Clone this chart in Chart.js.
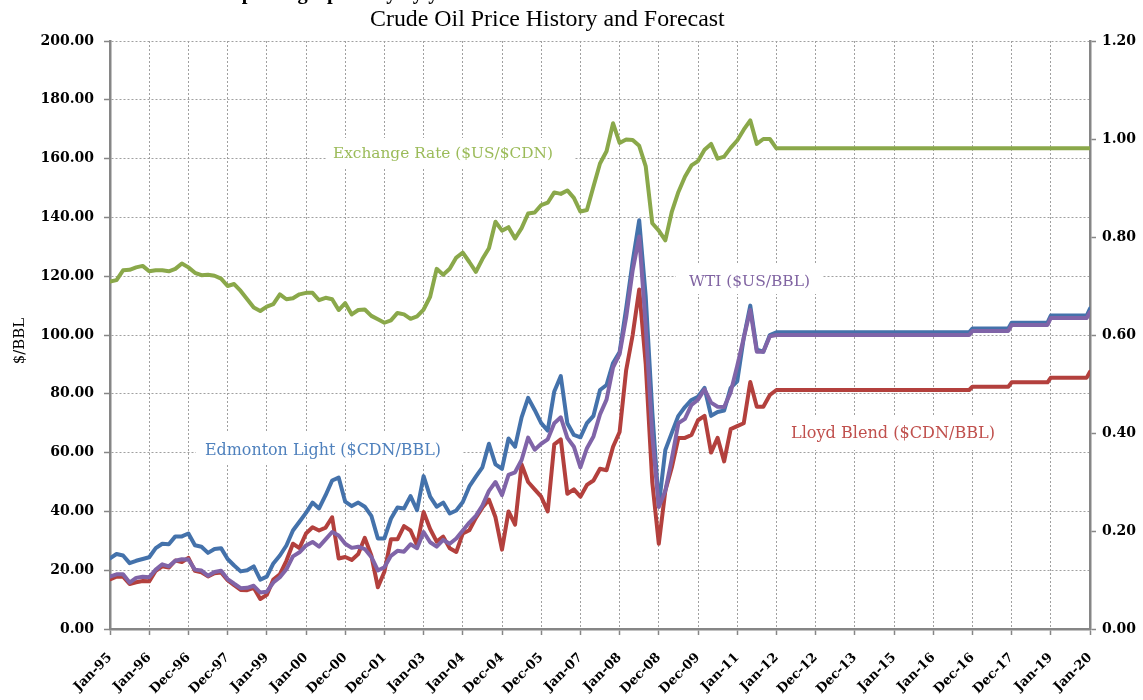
<!DOCTYPE html>
<html>
<head>
<meta charset="utf-8">
<title>Crude Oil Price History and Forecast</title>
<script src="https://cdn.jsdelivr.net/npm/chart.js@4.4.1/dist/chart.umd.min.js"></script>
<style>
  html, body { margin: 0; padding: 0; background: #fff; }
  canvas { display: block; }
</style>
</head>
<body>
<canvas id="oilChart" width="1143" height="700"></canvas>
<script>
// months since Jan-95 (history every 2 months, then forecast step points)
const monthIndex = [
  0, 2, 4, 6, 8, 10, 12, 14, 16, 18,
  20, 22, 24, 26, 28, 30, 32, 34, 36, 38,
  40, 42, 44, 46, 48, 50, 52, 54, 56, 58,
  60, 62, 64, 66, 68, 70, 72, 74, 76, 78,
  80, 82, 84, 86, 88, 90, 92, 94, 96, 98,
  100, 102, 104, 106, 108, 110, 112, 114, 116, 118,
  120, 122, 124, 126, 128, 130, 132, 134, 136, 138,
  140, 142, 144, 146, 148, 150, 152, 154, 156, 158,
  160, 162, 164, 166, 168, 170, 172, 174, 176, 178,
  180, 182, 184, 186, 188, 190, 192, 194, 196, 198,
  200, 202, 204,
  263, 264, 275, 276, 287, 288, 299, 300
];

const tickMonths = [0, 12, 24, 36, 48, 60, 72, 84, 96, 108, 120, 132, 144,
  156, 168, 180, 192, 204, 216, 228, 240, 252, 264, 276, 288, 300];
const tickLabels = ['Jan-95', 'Jan-96', 'Dec-96', 'Dec-97', 'Jan-99', 'Jan-00', 'Dec-00',
  'Dec-01', 'Jan-03', 'Jan-04', 'Dec-04', 'Dec-05', 'Jan-07', 'Jan-08', 'Dec-08',
  'Dec-09', 'Jan-11', 'Jan-12', 'Dec-12', 'Dec-13', 'Jan-15', 'Jan-16', 'Dec-16',
  'Dec-17', 'Jan-19', 'Jan-20'];

// Edmonton Light ($CDN/BBL)
const edmontonLight = [
  24.0, 25.5, 25.0, 22.4, 23.2, 23.8, 24.4, 27.5, 29.0, 28.8,
  31.5, 31.5, 32.5, 28.5, 28.0, 25.9, 27.2, 27.5, 23.8, 21.6,
  19.6, 20.0, 21.3, 16.8, 17.8, 22.3, 25.0, 28.4, 33.5, 36.5,
  39.5, 43.0, 41.0, 45.5, 50.5, 51.5, 43.3, 41.8, 43.0, 41.6,
  38.5, 30.8, 30.8, 37.5, 41.3, 41.0, 45.2, 40.4, 52.0, 45.0,
  41.6, 43.0, 39.3, 40.3, 43.2, 48.5, 51.8, 55.0, 63.0, 56.0,
  54.5, 64.8, 62.0, 72.0, 78.6, 74.5, 70.0, 67.5, 80.8, 86.0,
  70.0, 66.0, 65.2, 70.0, 72.5, 81.3, 83.0, 90.5, 94.2, 109.0,
  125.0, 139.0, 113.0, 74.0, 42.0, 60.9, 66.8, 72.5, 75.5, 77.9,
  79.0, 82.0, 72.5, 73.8, 74.3, 82.0, 84.2, 99.0, 110.0, 95.0,
  94.3, 100.0, 100.9,
  100.9, 102.2, 102.2, 104.2, 104.2, 106.6, 106.6, 109.0
];

// WTI ($US/BBL)
const wti = [
  17.8, 18.6, 18.6, 15.8, 17.4, 17.8, 17.6, 20.2, 22.0, 21.3,
  23.2, 23.7, 23.6, 20.2, 19.9, 18.1, 19.4, 19.8, 17.0, 15.4,
  13.9, 14.0, 14.7, 12.4, 12.7, 15.8, 17.6, 20.3, 24.7, 26.1,
  28.4, 29.6, 28.0, 30.5, 33.0, 31.8, 29.0, 27.6, 28.0, 27.2,
  24.5, 19.9, 21.0, 24.9, 26.6, 26.3, 28.8, 27.5, 33.0, 29.5,
  28.0, 30.3, 29.0, 30.8, 33.5, 36.2, 38.5, 42.0, 47.0, 50.0,
  45.5, 52.4, 53.3, 57.5, 65.1, 61.0, 63.0, 64.5, 70.0, 72.0,
  65.0, 62.0, 55.0, 61.5, 65.5, 73.0, 78.0, 89.0, 93.5, 106.0,
  122.0, 133.5, 103.0, 66.0, 41.5, 47.0, 58.0, 70.0, 71.5, 76.2,
  78.0, 81.5, 77.0, 75.6, 75.5, 80.5, 89.5, 99.0, 108.5, 94.3,
  94.3, 99.6, 100.0,
  100.0, 101.4, 101.4, 103.4, 103.4, 105.8, 105.8, 107.8
];

// Lloyd Blend ($CDN/BBL)
const lloydBlend = [
  16.9, 17.8, 17.8, 15.3, 15.9, 16.3, 16.2, 19.8, 21.3, 20.9,
  23.3, 22.8, 24.2, 19.8, 19.3, 17.9, 19.0, 19.2, 16.6, 14.9,
  13.3, 13.2, 14.0, 10.2, 11.6, 16.8, 18.6, 23.2, 29.0, 27.5,
  32.5, 34.6, 33.5, 34.5, 38.0, 24.0, 24.5, 23.5, 25.5, 31.0,
  25.0, 14.2, 19.5, 30.5, 30.5, 35.0, 33.5, 28.5, 39.8, 34.0,
  29.7, 31.4, 27.5, 26.2, 32.5, 33.6, 37.8, 41.3, 44.0, 38.0,
  27.0, 40.0, 35.5, 56.0, 50.0, 47.5, 45.0, 40.0, 62.8, 64.5,
  46.0, 47.5, 45.0, 49.0, 50.5, 54.5, 54.0, 62.0, 67.0, 88.0,
  100.0, 115.5, 90.0, 50.0, 29.0, 47.0, 55.0, 65.0, 65.0, 66.0,
  71.0, 72.5, 60.0, 65.0, 57.0, 68.0, 69.0, 70.0, 84.0, 75.6,
  75.6, 79.6, 81.3,
  81.3, 82.4, 82.4, 83.9, 83.9, 85.5, 85.5, 87.5
];

// Exchange Rate ($US/$CDN), right axis
const exchangeRate = [
  0.709, 0.712, 0.732, 0.733, 0.738, 0.741, 0.730, 0.732, 0.732, 0.730,
  0.735, 0.746, 0.738, 0.727, 0.722, 0.723, 0.721, 0.715, 0.700, 0.704,
  0.690, 0.673, 0.656, 0.649, 0.658, 0.663, 0.683, 0.673, 0.675, 0.683,
  0.686, 0.686, 0.671, 0.676, 0.673, 0.651, 0.665, 0.642, 0.651, 0.652,
  0.639, 0.632, 0.625, 0.630, 0.645, 0.642, 0.633, 0.638, 0.652, 0.678,
  0.735, 0.723, 0.735, 0.758, 0.768, 0.749, 0.729, 0.755, 0.777, 0.831,
  0.813, 0.820, 0.797, 0.818, 0.848, 0.850, 0.865, 0.870, 0.891, 0.888,
  0.895, 0.880, 0.852, 0.855, 0.903, 0.950, 0.975, 1.032, 0.992, 0.999,
  0.998, 0.986, 0.944, 0.828, 0.813, 0.793, 0.852, 0.892, 0.923, 0.946,
  0.955, 0.978, 0.990, 0.960, 0.964, 0.982, 0.997, 1.019, 1.038, 0.990,
  1.000, 1.000, 0.981,
  0.981, 0.981, 0.981, 0.981, 0.981, 0.981, 0.981, 0.981
];

const SERIF = '"DejaVu Serif", "Liberation Serif", serif';
const TITLE_SERIF = '"Liberation Serif", "DejaVu Serif", serif';

function toPoints(values) {
  return monthIndex.map((m, i) => ({ x: m, y: values[i] }));
}

// size a font so the text spans the given width
function fitFont(ctx, text, width, weight, family) {
  family = family || SERIF;
  ctx.font = weight + ' 100px ' + family;
  const size = 100 * width / ctx.measureText(text).width;
  return weight + ' ' + size.toFixed(2) + 'px ' + family;
}

// in-plot series labels, on white boxes that hide the grid
const seriesLabels = [
  { text: 'Exchange Rate ($US/$CDN)', color: '#9BBB59', x: 333, w: 220, base: 158, box: [327, 138, 574, 168] },
  { text: 'Edmonton Light ($CDN/BBL)', color: '#4F81BD', x: 205, w: 236, base: 455, box: [196, 431, 463, 463] },
  { text: 'WTI ($US/BBL)', color: '#8064A2', x: 689, w: 121, base: 286, box: [676, 265, 822, 294] },
  { text: 'Lloyd Blend ($CDN/BBL)', color: '#C0504D', x: 791, w: 204, base: 438, box: [781, 416, 1006, 450] }
];

const labelPlugin = {
  id: 'labels',
  beforeDraw(chart) {
    const ctx = chart.ctx;
    ctx.save();
    ctx.fillStyle = '#fff';
    ctx.fillRect(0, 0, chart.width, chart.height);
    ctx.restore();
  },
  beforeDatasetsDraw(chart) {
    const ctx = chart.ctx;
    ctx.save();
    seriesLabels.forEach(l => {
      ctx.fillStyle = '#fff';
      ctx.fillRect(l.box[0], l.box[1], l.box[2] - l.box[0], l.box[3] - l.box[1]);
      ctx.font = fitFont(ctx, l.text, l.w, 'normal');
      ctx.fillStyle = l.color;
      ctx.textAlign = 'left';
      ctx.textBaseline = 'alphabetic';
      ctx.fillText(l.text, l.x, l.base);
    });
    ctx.restore();
  },
  afterDraw(chart) {
    const ctx = chart.ctx;
    ctx.save();
    ctx.fillStyle = '#000';
    ctx.textAlign = 'left';
    ctx.textBaseline = 'alphabetic';
    // heading above the chart, cut off by the top edge
    const cut = 'Prices compared graphically by year';
    ctx.font = fitFont(ctx, cut, 320, 'bold', TITLE_SERIF);
    ctx.fillText(cut, 147, -1);
    // chart title
    const title = 'Crude Oil Price History and Forecast';
    ctx.font = fitFont(ctx, title, 355, 'normal', TITLE_SERIF);
    ctx.fillText(title, 370, 26);
    // left axis title
    ctx.translate(24, 341);
    ctx.rotate(-Math.PI / 2);
    ctx.textAlign = 'center';
    ctx.font = 'normal 15px ' + SERIF;
    ctx.fillText('$/BBL', 0, 0);
    ctx.restore();
  }
};

const axisGray = '#868686';
const gridGray = '#a0a0a0';
const tickFont = { family: SERIF, size: 14, weight: 'bold' };

new Chart(document.getElementById('oilChart'), {
  type: 'line',
  data: {
    datasets: [
      {
        label: 'Exchange Rate ($US/$CDN)',
        data: toPoints(exchangeRate),
        yAxisID: 'y1',
        borderColor: '#8AA84A',
        borderWidth: 4
      },
      {
        label: 'WTI ($US/BBL)',
        data: toPoints(wti),
        yAxisID: 'y',
        borderColor: '#8064A8',
        borderWidth: 4
      },
      {
        label: 'Lloyd Blend ($CDN/BBL)',
        data: toPoints(lloydBlend),
        yAxisID: 'y',
        borderColor: '#B3403D',
        borderWidth: 4
      },
      {
        label: 'Edmonton Light ($CDN/BBL)',
        data: toPoints(edmontonLight),
        yAxisID: 'y',
        borderColor: '#4472AB',
        borderWidth: 4
      }
    ]
  },
  options: {
    responsive: false,
    animation: false,
    devicePixelRatio: 1,
    layout: { padding: { top: 41, left: 0, right: 0, bottom: 0 } },
    elements: {
      point: { radius: 0, hoverRadius: 0 },
      line: { tension: 0, borderJoinStyle: 'round', borderCapStyle: 'round' }
    },
    plugins: {
      legend: { display: false },
      title: { display: false },
      tooltip: { enabled: false }
    },
    scales: {
      x: {
        type: 'linear',
        min: 0,
        max: 300,
        afterFit(scale) { scale.height = 71; },
        afterBuildTicks(scale) { scale.ticks = tickMonths.map(v => ({ value: v })); },
        ticks: {
          autoSkip: false,
          minRotation: 45,
          maxRotation: 45,
          padding: 15,
          color: '#000',
          font: { family: SERIF, size: 13, weight: 'bold' },
          callback: (value, index) => tickLabels[index]
        },
        grid: {
          color: gridGray,
          lineWidth: 1,
          tickLength: 6,
          tickColor: axisGray,
          tickWidth: 1.5,
          tickBorderDash: []
        },
        border: { color: axisGray, width: 2.5, dash: [2, 2] }
      },
      y: {
        position: 'left',
        min: 0,
        max: 200,
        afterFit(scale) { scale.width = 110; },
        ticks: {
          stepSize: 20,
          padding: 10,
          color: '#000',
          font: tickFont,
          callback: v => v.toFixed(2)
        },
        grid: {
          color: gridGray,
          lineWidth: 1,
          tickLength: 6,
          tickColor: axisGray,
          tickWidth: 1.5,
          tickBorderDash: []
        },
        border: { color: axisGray, width: 2.5, dash: [2, 2] }
      },
      y1: {
        position: 'right',
        min: 0,
        max: 1.2,
        afterFit(scale) { scale.width = 53; },
        ticks: {
          stepSize: 0.2,
          padding: 6,
          color: '#000',
          font: tickFont,
          callback: v => v.toFixed(2)
        },
        grid: {
          drawOnChartArea: false,
          tickLength: 6,
          tickColor: axisGray,
          tickWidth: 1.5
        },
        border: { color: axisGray, width: 2.5 }
      }
    }
  },
  plugins: [labelPlugin]
});
</script>
</body>
</html>
